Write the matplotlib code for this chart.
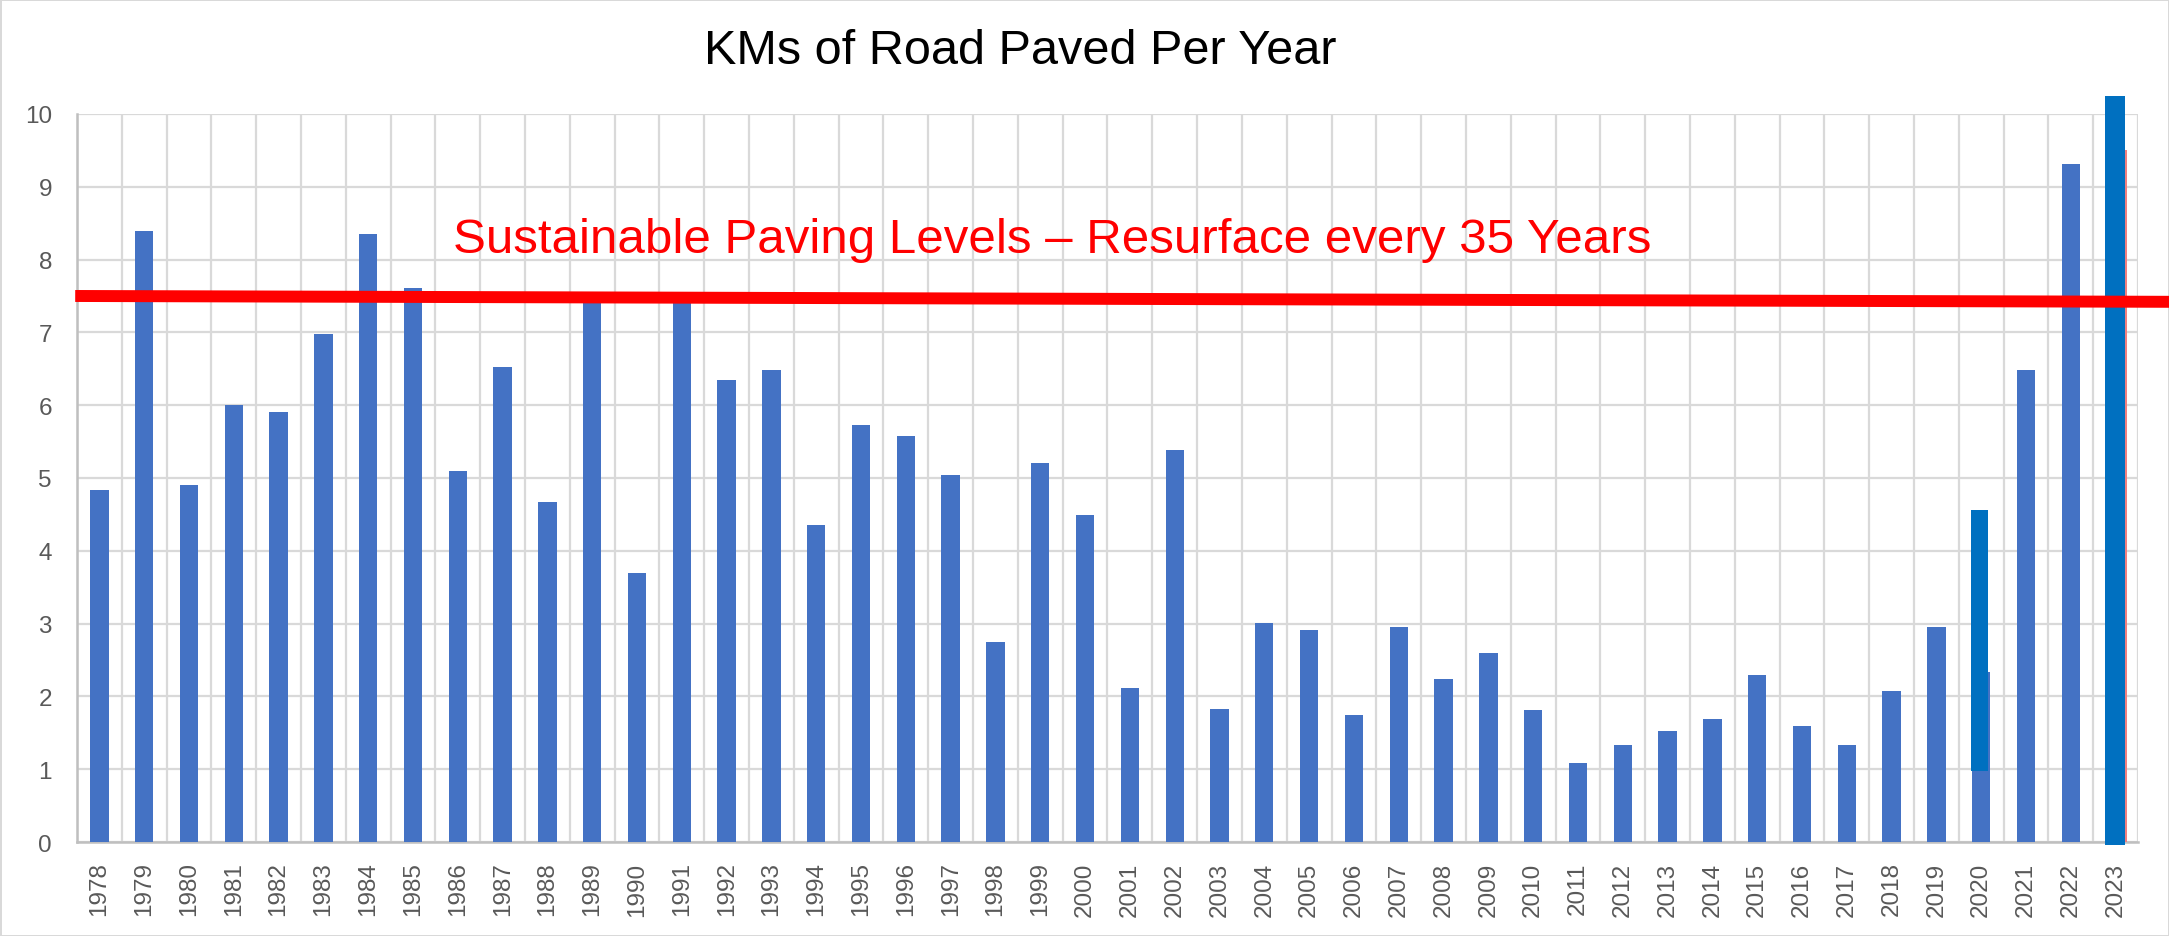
import matplotlib.pyplot as plt

plt.rcParams['font.family'] = ['Liberation Sans', 'DejaVu Sans']

# Data
years = list(range(1978, 2024))
km_paved = [4.83, 8.39, 4.91, 6.00, 5.91, 6.98, 8.35, 7.61, 5.10, 6.53,
            4.67, 7.50, 3.69, 7.45, 6.35, 6.49, 4.36, 5.73, 5.57, 5.04,
            2.75, 5.21, 4.49, 2.11, 5.39, 1.83, 3.01, 2.91, 1.75, 2.96,
            2.24, 2.59, 1.81, 1.09, 1.33, 1.52, 1.69, 2.30, 1.60, 1.33,
            2.07, 2.95, 2.34, 6.49, 9.31, 0.0]

# pasted-over bars (2020 and 2023 in the original image)
overlay_years = [2020, 2023]
overlay_bottom = [0.98, -0.04]
overlay_top = [4.56, 10.25]
hidden_2023 = 9.51

# sustainable level line, left and right ends
sustain_start = 7.50
sustain_end = 7.42

blue = '#4472C4'
dark_blue = '#0070C0'
grid_c = '#D9D9D9'
label_c = '#595959'

fig = plt.figure(figsize=(21.69, 9.37), dpi=100, edgecolor=grid_c, linewidth=2)
ax = fig.add_axes([0.0355, 0.1003, 0.9502, 0.777])

x = list(range(len(years)))
ax.bar(x, km_paved, width=0.41, color=blue, zorder=3)

# thin reddish edge of the hidden 2023 bar
i23 = years.index(2023)
ax.bar(i23 + 0.22, hidden_2023, width=0.05, color='#F08080', zorder=3)

for yr, b, t in zip(overlay_years, overlay_bottom, overlay_top):
    i = years.index(yr)
    shift = -0.03 if yr == 2020 else -0.02
    w = 0.38 if yr == 2020 else 0.45
    ax.bar(i + shift, t - b, bottom=b, width=w, color=dark_blue,
           zorder=4, clip_on=False)

ax.set_xlim(-0.5, len(years) - 0.5)
ax.set_ylim(0, 10)

# red sustainable line runs past the plot to the image edge
ax.plot([-0.54, 46.2], [sustain_start, sustain_end], color='#FF0000',
        lw=8.6, solid_capstyle='butt', zorder=5, clip_on=False)
ax.text(7.9, 8.1, 'Sustainable Paving Levels \u2013 Resurface every 35 Years',
        color='#FF0000', fontsize=35.5, va='baseline', ha='left', zorder=6)

# gridlines at category boundaries and each unit
for b in range(len(years) + 1):
    ax.axvline(b - 0.5, color=grid_c, lw=1.6, zorder=1)
for v in range(0, 11):
    ax.axhline(v, color=grid_c, lw=1.6, zorder=1)

ax.set_xticks(x)
ax.set_xticklabels([str(y) for y in years], rotation=90, fontsize=17.5,
                   color=label_c)
ax.set_yticks(range(0, 11))
ax.set_yticklabels([str(v) for v in range(0, 11)], fontsize=17.5, color=label_c)
ax.tick_params(axis='both', length=0)
ax.tick_params(axis='y', pad=18)
ax.tick_params(axis='x', pad=14)

for s in ['top', 'right']:
    ax.spines[s].set_visible(False)
for s in ['left', 'bottom']:
    ax.spines[s].set_color('#BFBFBF')
    ax.spines[s].set_linewidth(1.8)
    ax.spines[s].set_zorder(2)

fig.text(0.4705, 0.945, 'KMs of Road Paved Per Year', fontsize=35,
         ha='center', va='center', color='black')

fig.savefig('out.png', dpi=100)
